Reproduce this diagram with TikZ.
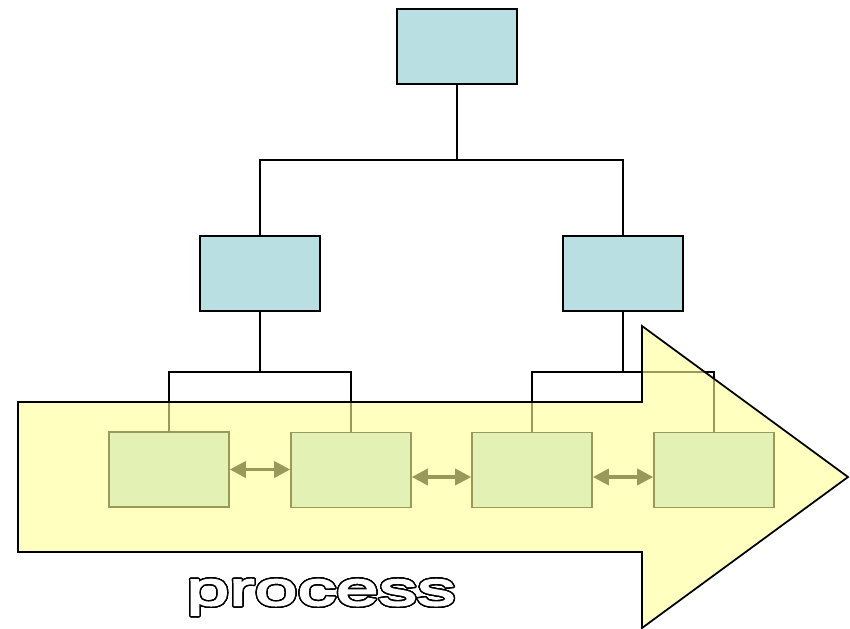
\documentclass[tikz,border=0pt]{standalone}
\usepackage{fontspec}
\usepackage{xcolor}
\usepackage{tikz}
\usepackage{contour}
\usetikzlibrary{arrows.meta}
\newfontfamily\widefont[FakeStretch=1.62,FakeBold=4]{Liberation Sans}
\definecolor{BoxBlue}{HTML}{B9DFE3}
\definecolor{FlowYellow}{HTML}{FFFF96}
\contourlength{0.8pt}
\contournumber{32}

\begin{document}
\begin{tikzpicture}[x=0.2mm, y=-0.2mm]%
\tikzset{unit/.style={draw, line width=0.9pt, fill=BoxBlue, minimum width=2.4cm, minimum height=1.5cm, inner sep=0pt},
  link/.style={line width=1pt},
  swap/.style={line width=2pt, {Triangle[length=3.2mm,width=3.2mm]}-{Triangle[length=3.2mm,width=3.2mm]}}}%
\useasboundingbox (0,0) rectangle (850,629);%
% org part
\node[unit] (top) at (457, 46.5) {};%
\node[unit] (ml) at (260, 273.5) {};%
\node[unit] (mr) at (623, 273.5) {};%
\node[unit] (b1) at (169, 469.5) {};%
\node[unit] (b2) at (351, 470) {};%
\node[unit] (b3) at (532, 470) {};%
\node[unit] (b4) at (714, 470) {};%
\draw[link] (top.south) -- ++(0,75) -| (ml.north);%
\draw[link] (top.south) -- ++(0,75) -| (mr.north);%
\draw[link] (ml.south) -- ++(0,60) -| (b1.north);%
\draw[link] (ml.south) -- ++(0,60) -| (b2.north);%
\draw[link] (mr.south) -- ++(0,60) -| (b3.north);%
\draw[link] (mr.south) -- ++(0,60) -| (b4.north);%
\draw[swap] (b1.east) -- (b1.east -| b2.west);%
\draw[swap] ([yshift=-1.4mm]b2.east) -- ([yshift=-1.4mm]b3.west);%
\draw[swap] ([yshift=-1.4mm]b3.east) -- ([yshift=-1.4mm]b4.west);%
% flow arrow
\draw[line width=1pt, fill=FlowYellow, fill opacity=0.6] (18,402) -- (642,402) -- (642,326) -- (848,477) -- (642,628) -- (642,552) -- (18,552) -- cycle;%
\node (label) at (321, 598) {\fontsize{27}{30}\widefont\contour{black}{\textcolor{white}{process}}};%
\end{tikzpicture}
\end{document}
